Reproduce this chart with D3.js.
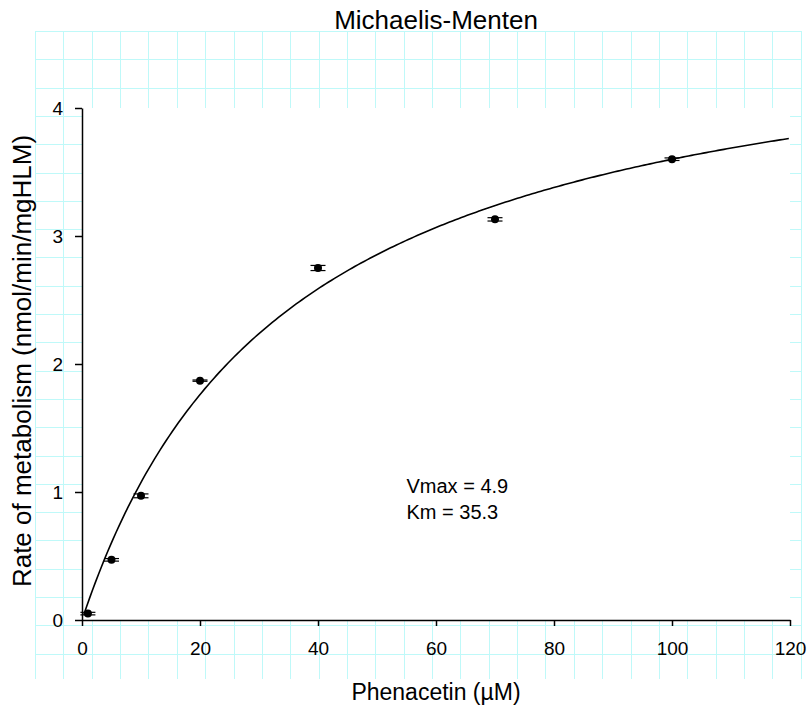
<!DOCTYPE html>
<html>
<head>
<meta charset="utf-8">
<script src="https://cdnjs.cloudflare.com/ajax/libs/d3/7.8.5/d3.min.js"></script>
<style>
  body { margin: 0; background: #fff; }
  text { font-family: "Liberation Sans", Arial, sans-serif; }
</style>
</head>
<body>
<div id="chart"></div>
<script>
 //data
 var substrate = [1, 5, 10, 20, 40, 70, 100];
 var rate = [0.05, 0.47, 0.97, 1.87, 2.75, 3.13, 3.60];
 var rateErr = [0.01, 0.01, 0.015, 0.005, 0.02, 0.013, 0.01];
 var xTicks = [0, 20, 40, 60, 80, 100, 120];
 var yTicks = [0, 1, 2, 3, 4];

 //fit parameters
 var vmax = 4.87;
 var km = 35.3;

 var W = 809, H = 710;
 var margin = { left: 82, right: 19, top: 108, bottom: 90 };
 var width = W - margin.left - margin.right,
     height = H - margin.top - margin.bottom;

 var svg = d3.select("#chart")
     .append("svg")
     .attr("width", W)
     .attr("height", H);

 //background worksheet grid
 var grid = svg.append("g").attr("stroke", "#bff9f9").attr("stroke-width", 1);
 var gx0 = 35, gy0 = 31, gx1 = 801, gy1 = 679, step = 28.36;
 d3.range(0, 28).forEach(function (i) {
     var x = Math.round(gx0 + i * step) + 0.5;
     grid.append("line").attr("x1", x).attr("x2", x).attr("y1", gy0).attr("y2", gy1);
 });
 d3.range(0, 23).forEach(function (j) {
     var y = Math.round(gy0 + j * 28.3) + 0.5;
     grid.append("line").attr("x1", gx0).attr("x2", gx1).attr("y1", y).attr("y2", y);
 });

 var chartGroup = svg.append("g")
     .attr("transform", "translate(" + margin.left + "," + margin.top + ")");

 //white plot area hides the grid
 chartGroup.append("rect")
     .attr("width", width)
     .attr("height", height)
     .attr("fill", "#fff");

 var xScale = d3.scaleLinear().domain([0, 120]).range([0, width]);
 var yScale = d3.scaleLinear().domain([0, 4]).range([height, 0]);

 var yAxis = d3.axisLeft(yScale).tickValues(yTicks).tickFormat(d3.format("d"))
     .tickSize(7).tickSizeOuter(0).tickPadding(12);
 var xAxis = d3.axisBottom(xScale).tickValues(xTicks).tickFormat(d3.format("d"))
     .tickSize(6).tickSizeOuter(0).tickPadding(16);

 chartGroup.append("g")
     .attr("class", "axis_x")
     .attr("transform", "translate(0," + height + ")")
     .call(xAxis);

 chartGroup.append("g")
     .attr("class", "axis_y")
     .call(yAxis);

 chartGroup.selectAll(".domain, .tick line")
     .attr("stroke", "#000")
     .attr("stroke-width", 1.5);
 chartGroup.selectAll(".tick text")
     .attr("fill", "#000")
     .attr("font-size", "19px");

 //fitted curve
 var curveX = d3.range(0.3, 120.01, 0.5);
 var line = d3.line()
     .x(function (d) { return xScale(d); })
     .y(function (d) { return yScale(vmax * d / (km + d)); });
 chartGroup.append("path")
     .datum(curveX)
     .attr("d", line)
     .attr("fill", "none")
     .attr("stroke", "#000")
     .attr("stroke-width", 1.6);

 //error bars
 var data = substrate.map(function (s, i) {
     return { s: s, v: rate[i], e: rateErr[i] };
 });
 var capW = 7.5;
 var bars = chartGroup.selectAll(".err")
     .data(data)
     .enter()
     .append("g")
     .attr("class", "err")
     .attr("stroke", "#000")
     .attr("stroke-width", 1.2);
 bars.append("line")
     .attr("x1", function (d) { return xScale(d.s); })
     .attr("x2", function (d) { return xScale(d.s); })
     .attr("y1", function (d) { return yScale(d.v - d.e); })
     .attr("y2", function (d) { return yScale(d.v + d.e); });
 [-1, 1].forEach(function (sgn) {
     bars.append("line")
         .attr("x1", function (d) { return xScale(d.s) - capW; })
         .attr("x2", function (d) { return xScale(d.s) + capW; })
         .attr("y1", function (d) { return yScale(d.v + sgn * d.e); })
         .attr("y2", function (d) { return yScale(d.v + sgn * d.e); });
 });

 //points
 chartGroup.selectAll(".pt")
     .data(data)
     .enter()
     .append("circle")
     .attr("class", "pt")
     .attr("cx", function (d) { return xScale(d.s); })
     .attr("cy", function (d) { return yScale(d.v); })
     .attr("r", 4)
     .attr("fill", "#000");

 //fit result
 chartGroup.append("text")
     .attr("x", xScale(55))
     .attr("y", yScale(0.99))
     .attr("font-size", "20px")
     .text("Vmax = " + vmax.toFixed(1));
 chartGroup.append("text")
     .attr("x", xScale(55))
     .attr("y", yScale(0.79))
     .attr("font-size", "20px")
     .text("Km = " + km.toFixed(1));

 //titles
 svg.append("text")
     .attr("x", margin.left + width / 2)
     .attr("y", 29)
     .attr("text-anchor", "middle")
     .attr("font-size", "26px")
     .text("Michaelis-Menten");

 svg.append("text")
     .attr("x", margin.left + width / 2)
     .attr("y", 700)
     .attr("text-anchor", "middle")
     .attr("font-size", "23px")
     .text("Phenacetin (\u00b5M)");

 svg.append("text")
     .attr("transform", "translate(31,361) rotate(-90)")
     .attr("text-anchor", "middle")
     .attr("font-size", "26px")
     .text("Rate of metabolism (nmol/min/mgHLM)");
</script>
</body>
</html>
